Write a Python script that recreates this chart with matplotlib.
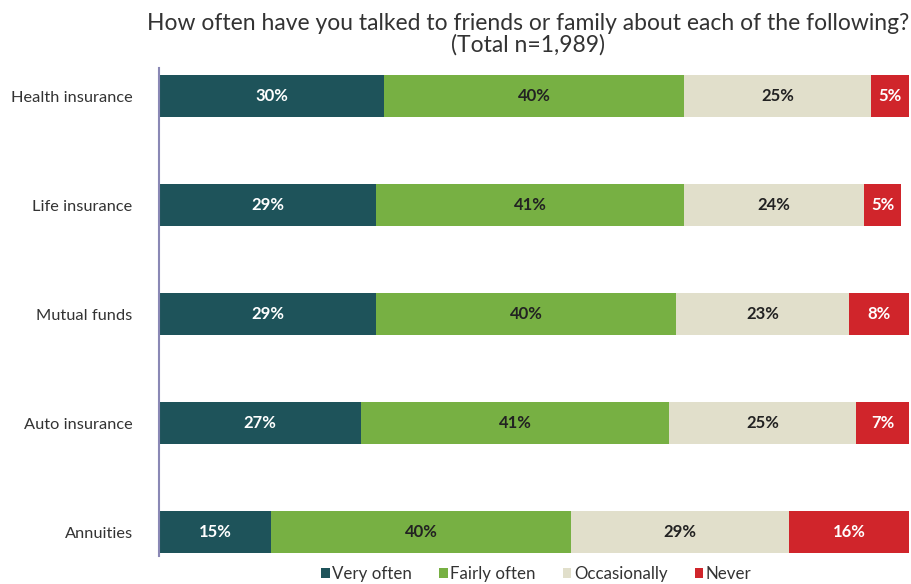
import numpy as np
import matplotlib.pyplot as plt

plt.rcParams['font.family'] = ['Lato', 'DejaVu Sans']

categories = ["Health insurance", "Life insurance", "Mutual funds", "Auto insurance", "Annuities"]
series_names = ["Very often", "Fairly often", "Occasionally", "Never"]
very_often = [30, 29, 29, 27, 15]
fairly_often = [40, 41, 40, 41, 40]
occasionally = [25, 24, 23, 25, 29]
never = [5, 5, 8, 7, 16]

colors = ["#1e535a", "#77b043", "#e1dfcb", "#d0252b"]
text_colors = ["white", "#222222", "#222222", "white"]


def main() -> None:
  fig = plt.figure(figsize=(9.12, 5.84), dpi=100)
  # axes box: x 159..909 px, y 68..556 px (from top)
  ax = fig.add_axes([159 / 912, 28 / 584, (909 - 159) / 912, (556 - 68) / 584])

  y = np.arange(len(categories))
  left = np.zeros(len(categories))
  for name, vals, c, tc in zip(series_names, [very_often, fairly_often, occasionally, never], colors, text_colors):
    vals = np.array(vals, dtype=float)
    ax.barh(y, vals, left=left, height=0.38, color=c, label=name)
    for yi, l, v in zip(y, left, vals):
      ax.text(l + v / 2, yi, f"{int(v)}%", ha='center', va='center',
              color=tc, fontsize=12, fontweight='bold')
    left += vals

  ax.set_xlim(0, 100)
  ax.set_ylim(4.22, -0.257)
  ax.set_yticks(y, categories)
  ax.tick_params(axis='y', length=0, pad=19, labelsize=11.8, labelcolor='#333333')
  ax.set_xticks([])
  for s in ['top', 'right', 'bottom']:
    ax.spines[s].set_visible(False)
  ax.spines['left'].set_color('#8a88b5')
  ax.spines['left'].set_linewidth(1.5)

  fig.text(528 / 912, 1 - 34 / 584,
           "How often have you talked to friends or family about each of the following?\n(Total n=1,989)",
           ha='center', va='center', fontsize=16.5, color='#333333', linespacing=1.0)

  ax.legend(loc='center', bbox_to_anchor=(0.503, -0.037), ncol=4, frameon=False,
            fontsize=12.2, handlelength=0.5, handleheight=0.5, handletextpad=0.15,
            columnspacing=1.6, labelcolor='#333333', borderpad=0)

  fig.savefig("out.png", dpi=100)
  plt.close(fig)


if __name__ == "__main__":
  main()
